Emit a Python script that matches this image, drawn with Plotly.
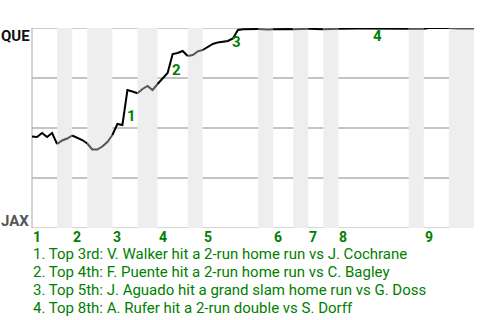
import plotly.graph_objects as go

# half-inning boundaries (event index); even->odd = top half, odd->even = bottom half
half_bounds = [0, 5, 8, 11, 16, 21, 25, 31, 34, 45, 48, 52, 55, 58, 61, 75, 78, 83, 88]
innings = ["1", "2", "3", "4", "5", "6", "7", "8", "9"]

# win probability for top team (QUE) after each event
wp = [0.4575, 0.455, 0.475, 0.455, 0.475, 0.42, 0.4375, 0.4475, 0.4625, 0.4525,
      0.44, 0.4225, 0.3925, 0.3925, 0.4075, 0.43, 0.465, 0.52, 0.515, 0.69,
      0.6825, 0.6735, 0.695, 0.71, 0.69, 0.72, 0.745, 0.775, 0.87, 0.875,
      0.885, 0.86, 0.865, 0.883, 0.89, 0.905, 0.92, 0.928, 0.932, 0.935,
      0.948, 0.99, 0.994, 0.995, 0.995, 0.995, 0.993, 0.993, 0.994, 0.995,
      0.995, 0.995, 0.994, 0.994, 0.994, 0.996, 0.996, 0.996, 0.994, 0.994,
      0.994, 0.996, 0.997, 0.997, 0.997, 0.997, 0.997, 0.997, 0.997, 0.997,
      0.997, 0.997, 0.997, 0.997, 0.997, 0.996, 0.995, 0.995, 0.996, 1.0,
      1.0, 1.0, 1.0, 1.0, 0.998, 0.998, 0.998, 0.998, 0.998]

event_labels = ["1", "2", "3", "4"]
event_x = [19.8, 28.8, 40.8, 68.8]
event_y = [0.56, 0.79, 0.93, 0.96]

notes = [
    "1. Top 3rd: V. Walker hit a 2-run home run vs J. Cochrane",
    "2. Top 4th: F. Puente hit a 2-run home run vs C. Bagley",
    "3. Top 5th: J. Aguado hit a grand slam home run vs G. Doss",
    "4. Top 8th: A. Rufer hit a 2-run double vs S. Dorff",
]

teams = ["QUE", "JAX"]

GREEN = "#008000"
FONT = "Roboto"

fig = go.Figure()

shapes = []
# shaded bottom halves
for k in range(1, len(half_bounds) - 1, 2):
    shapes.append(dict(type="rect", xref="x", yref="y", x0=half_bounds[k], x1=half_bounds[k + 1],
                       y0=0, y1=1, fillcolor="#eeeeee", line=dict(width=0), layer="below"))
# horizontal grid lines
for g, c in [(1.0, "#999999"), (0.75, "#888888"), (0.5, "#888888"), (0.25, "#888888"), (0.0, "#aaaaaa")]:
    shapes.append(dict(type="line", xref="paper", yref="y", x0=0, x1=1, y0=g, y1=g,
                       line=dict(color=c, width=1), layer="below"))
shapes.append(dict(type="line", xref="paper", yref="y", x0=0, x1=0, y0=0, y1=1,
                   line=dict(color="#aaaaaa", width=1), layer="below"))

# win probability line, coloured by half inning
for k in range(len(half_bounds) - 1):
    a, b = half_bounds[k], half_bounds[k + 1]
    xs = list(range(a, b + 1))
    ys = wp[a:b + 1]
    fig.add_trace(go.Scatter(x=xs, y=ys, mode="lines", hoverinfo="skip",
                             line=dict(color="#000000" if k % 2 == 0 else "#555555", width=2)))

annotations = []
for lab, x, y in zip(event_labels, event_x, event_y):
    annotations.append(dict(x=x, y=y, xref="x", yref="y", text=lab, showarrow=False,
                            font=dict(family=FONT, size=15, color=GREEN, weight="bold")))
for i, inn in enumerate(innings):
    annotations.append(dict(x=half_bounds[2 * i], y=0, xref="x", yref="y", text=inn,
                            showarrow=False, xanchor="left", yanchor="top", xshift=0, yshift=0,
                            borderpad=0,
                            font=dict(family=FONT, size=14, color=GREEN, weight="bold")))
annotations.append(dict(x=0, y=1, xref="paper", yref="y", text=teams[0], showarrow=False,
                        xanchor="right", yanchor="top", xshift=0, yshift=3,
                        font=dict(family=FONT, size=15, color="#111111", weight="bold")))
annotations.append(dict(x=0, y=0, xref="paper", yref="y", text=teams[1], showarrow=False,
                        xanchor="right", yanchor="bottom", xshift=-1, yshift=-4,
                        font=dict(family=FONT, size=15, color="#555555", weight="bold")))
for j, t in enumerate(notes):
    annotations.append(dict(x=0, y=-0.13 - 0.09 * j, xref="paper", yref="paper", text=t,
                            showarrow=False, xanchor="left", yanchor="middle", borderpad=0,
                            font=dict(family=FONT, size=15, color=GREEN)))

fig.update_layout(
    width=480, height=320,
    margin=dict(l=32, r=6, t=28, b=92),
    paper_bgcolor="white", plot_bgcolor="white",
    showlegend=False,
    xaxis=dict(range=[0, 88], visible=False, fixedrange=True),
    yaxis=dict(range=[0, 1], visible=False, fixedrange=True),
    shapes=shapes,
    annotations=annotations,
)

fig.write_html("out.html")
